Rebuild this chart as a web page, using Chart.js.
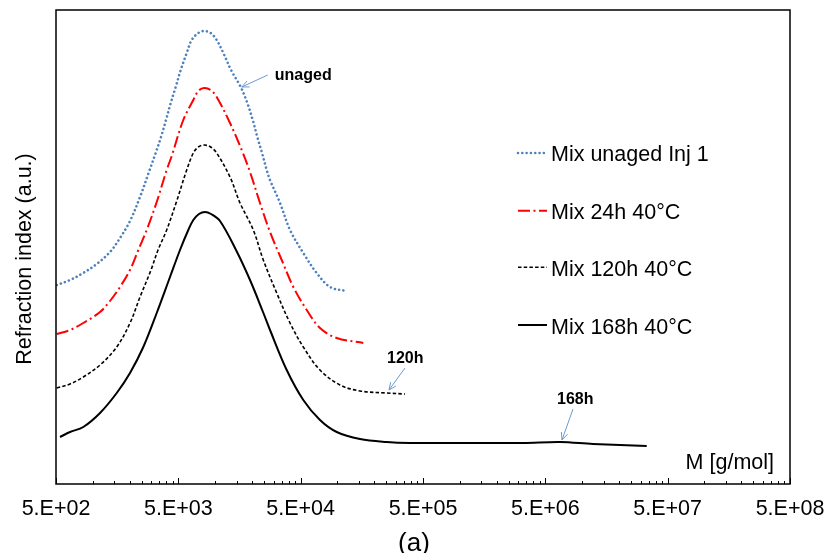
<!DOCTYPE html>
<html lang="en">
<head>
<meta charset="UTF-8">
<title>Refraction index vs M</title>
<style>
  body { margin: 0; background: #fff; }
  #wrap { width: 827px; height: 553px; }
</style>
</head>
<body>
<div id="wrap"><canvas id="myChart"></canvas></div>

<script src="https://cdn.jsdelivr.net/npm/chart.js"></script>
<script>
// series names (legend)
const seriesNames = ['Mix unaged Inj 1', 'Mix 24h 40°C', 'Mix 120h 40°C', 'Mix 168h 40°C'];

// molar mass M [g/mol] and refraction index (a.u.)
const mUnaged = [507, 651, 836, 1076, 1382, 1668, 2013, 2430, 2895, 3285, 3609, 3965, 4332, 4786, 5229, 5853, 6431, 7284, 8106, 9194,
  10293, 11660, 13478, 16180, 18315, 20274, 22103, 24155, 26389, 28080, 33897, 40918, 52539, 67631, 86878, 118000];
const riUnaged = [199, 204, 211, 220, 232, 246, 263, 287, 313, 332, 347, 364, 381, 398, 414, 431, 444, 451, 453, 451,
  444, 431, 414, 397, 381, 364, 347, 331, 314, 304, 281, 254, 231, 211, 197, 193];

const m24h = [507, 651, 836, 1145, 1382, 1668, 2013, 2354, 2757, 3329, 4016, 4414, 5489, 6628, 7284, 8106, 9194, 10293, 13224, 16482,
  19272, 23262, 28080, 34992, 43539, 56052, 71935, 98560, 162600];
const ri24h = [150, 154, 161, 172, 183, 197, 214, 234, 254, 282, 314, 328, 364, 384, 393, 396, 394, 387, 361, 334,
  312, 281, 252, 224, 197, 174, 156, 146, 141];

const m120h = [507, 651, 836, 1145, 1568, 2013, 2430, 2989, 3411, 4016, 4849, 5853, 6628, 7284, 8106, 9194, 10293, 13224, 15965, 20503,
  24750, 31856, 40918, 52539, 71935, 104846, 152800, 252500, 356300];
const ri120h = [96, 100, 107, 119, 137, 161, 187, 214, 234, 254, 283, 314, 331, 337, 339, 337, 331, 307, 281, 254,
  224, 191, 161, 137, 114, 99, 93, 91, 90];

const m168h = [539, 651, 836, 1145, 1568, 2013, 2586, 3329, 4275, 5159, 6031, 6628, 7378, 8259, 9248, 10953, 14807, 19272, 24609, 28080,
  38446, 52539, 71935, 98560, 152800, 252500, 391500, 1003000, 3285000, 6590000, 12260000, 33700000];
const ri168h = [47, 52, 57, 71, 91, 111, 137, 171, 207, 234, 254, 264, 270, 272, 270, 263, 234, 204, 172, 154,
  114, 84, 64, 52, 45, 42, 41, 41, 41, 42, 40, 38];

// x axis ticks
const majorTicks = [5e2, 5e3, 5e4, 5e5, 5e6, 5e7, 5e8];
const majorTickLabels = ['5.E+02', '5.E+03', '5.E+04', '5.E+05', '5.E+06', '5.E+07', '5.E+08'];

// notes with arrows: tip in data coords, text/tail offsets in px
const notes = [
  { text: 'unaged', m: 16500, ri: 397, tail: [26, -12], txt: [33, -7] },
  { text: '120h', m: 263700, ri: 94, tail: [16, -22], txt: [-2, -27] },
  { text: '168h', m: 6843000, ri: 44, tail: [11, -31], txt: [-5, -36] }
];

const FONT = '"Liberation Sans", Arial, sans-serif';

// minor ticks sit at v*k for each major v (Excel style log ticks)
const allTicks = [];
majorTicks.forEach((v, i) => {
  allTicks.push(v);
  if (i < majorTicks.length - 1) {
    for (let k = 2; k <= 9; k++) allTicks.push(v * k);
  }
});

function isMajor(v) {
  return majorTicks.some(m => Math.abs(m - v) / m < 1e-6);
}

function toPoints(xs, ys) {
  return xs.map((x, i) => ({ x: x, y: ys[i] }));
}

function drawArrow(ctx, x1, y1, x2, y2) {
  const ang = Math.atan2(y2 - y1, x2 - x1);
  const len = 8, spread = 0.42;
  ctx.beginPath();
  ctx.moveTo(x1, y1);
  ctx.lineTo(x2, y2);
  ctx.moveTo(x2 - len * Math.cos(ang - spread), y2 - len * Math.sin(ang - spread));
  ctx.lineTo(x2, y2);
  ctx.lineTo(x2 - len * Math.cos(ang + spread), y2 - len * Math.sin(ang + spread));
  ctx.stroke();
}

const decor = {
  id: 'decor',
  afterDraw(chart) {
    const ctx = chart.ctx;
    const a = chart.chartArea;
    const xs = chart.scales.x, ys = chart.scales.y;
    ctx.save();

    // inward tick marks on the x axis
    ctx.strokeStyle = '#000';
    ctx.lineWidth = 1;
    xs.ticks.forEach(t => {
      const px = Math.round(xs.getPixelForValue(t.value)) + 0.5;
      const len = isMajor(t.value) ? 6 : 3;
      ctx.beginPath();
      ctx.moveTo(px, a.bottom);
      ctx.lineTo(px, a.bottom - len);
      ctx.stroke();
    });

    // plot frame
    ctx.lineWidth = 1.5;
    ctx.strokeStyle = '#000';
    ctx.strokeRect(a.left, a.top, a.right - a.left, a.bottom - a.top);

    // axis titles
    ctx.fillStyle = '#000';
    ctx.font = '21.5px ' + FONT;
    ctx.textAlign = 'right';
    ctx.textBaseline = 'alphabetic';
    ctx.fillText('M [g/mol]', 774, 469);

    ctx.textAlign = 'center';
    ctx.font = '26px ' + FONT;
    ctx.fillText('(a)', 414, 551);

    ctx.save();
    ctx.translate(31, 259);
    ctx.rotate(-Math.PI / 2);
    ctx.font = '21.5px ' + FONT;
    ctx.fillText('Refraction index (a.u.)', 0, 0);
    ctx.restore();

    // legend
    const legLineY = [153, 210.7, 267.3, 325];
    const legTextY = [161, 219, 276, 333.5];
    chart.data.datasets.forEach((ds, i) => {
      ctx.save();
      ctx.strokeStyle = ds.borderColor;
      ctx.lineWidth = ds.borderWidth;
      ctx.lineCap = ds.borderCapStyle || 'butt';
      ctx.setLineDash(ds.borderDash || []);
      ctx.beginPath();
      ctx.moveTo(518, legLineY[i]);
      ctx.lineTo(547, legLineY[i]);
      ctx.stroke();
      ctx.restore();
      ctx.fillStyle = '#000';
      ctx.font = '21.5px ' + FONT;
      ctx.textAlign = 'left';
      ctx.fillText(ds.label, 551, legTextY[i]);
    });

    // notes
    ctx.strokeStyle = '#6A9AD4';
    ctx.lineWidth = 1;
    notes.forEach(n => {
      const tx = xs.getPixelForValue(n.m);
      const ty = ys.getPixelForValue(n.ri);
      drawArrow(ctx, tx + n.tail[0], ty + n.tail[1], tx, ty);
      ctx.fillStyle = '#000';
      ctx.font = 'bold 16px ' + FONT;
      ctx.textAlign = 'left';
      ctx.fillText(n.text, tx + n.txt[0], ty + n.txt[1]);
    });

    ctx.restore();
  }
};

const ctx = document.getElementById('myChart');

new Chart(ctx, {
  type: 'line',
  data: {
    datasets: [
      {
        label: seriesNames[0],
        data: toPoints(mUnaged, riUnaged),
        borderColor: '#4F81BD',
        borderWidth: 2.6,
        borderDash: [0.01, 4.3],
        borderCapStyle: 'round'
      },
      {
        label: seriesNames[1],
        data: toPoints(m24h, ri24h),
        borderColor: '#FF0000',
        borderWidth: 2,
        borderDash: [12, 3.5, 2, 3.5]
      },
      {
        label: seriesNames[2],
        data: toPoints(m120h, ri120h),
        borderColor: '#000000',
        borderWidth: 1.6,
        borderDash: [3.5, 2.2]
      },
      {
        label: seriesNames[3],
        data: toPoints(m168h, ri168h),
        borderColor: '#000000',
        borderWidth: 2
      }
    ]
  },
  options: {
    responsive: true,
    maintainAspectRatio: false,
    animation: false,
    layout: { padding: { left: 56, right: 37, top: 10, bottom: 0 } },
    elements: {
      point: { radius: 0 },
      line: { tension: 0.35, fill: false }
    },
    plugins: {
      legend: { display: false },
      tooltip: { enabled: false }
    },
    scales: {
      x: {
        type: 'logarithmic',
        position: 'bottom',
        min: 500,
        max: 5e8,
        grid: { display: false, drawTicks: false },
        border: { display: false },
        afterBuildTicks: (axis) => {
          axis.ticks = allTicks.map(v => ({ value: v, major: isMajor(v) }));
        },
        afterFit: (axis) => {
          axis.height = 69;
          axis.paddingLeft = 0;
          axis.paddingRight = 0;
        },
        ticks: {
          autoSkip: false,
          maxRotation: 0,
          minRotation: 0,
          padding: 12,
          color: '#000',
          font: { family: FONT, size: 21.5 },
          callback: (val) => {
            const i = majorTicks.findIndex(m => Math.abs(m - val) / m < 1e-6);
            return i >= 0 ? majorTickLabels[i] : '';
          }
        }
      },
      y: {
        display: false,
        min: 0,
        max: 474
      }
    }
  },
  plugins: [decor]
});
</script>
</body>
</html>
